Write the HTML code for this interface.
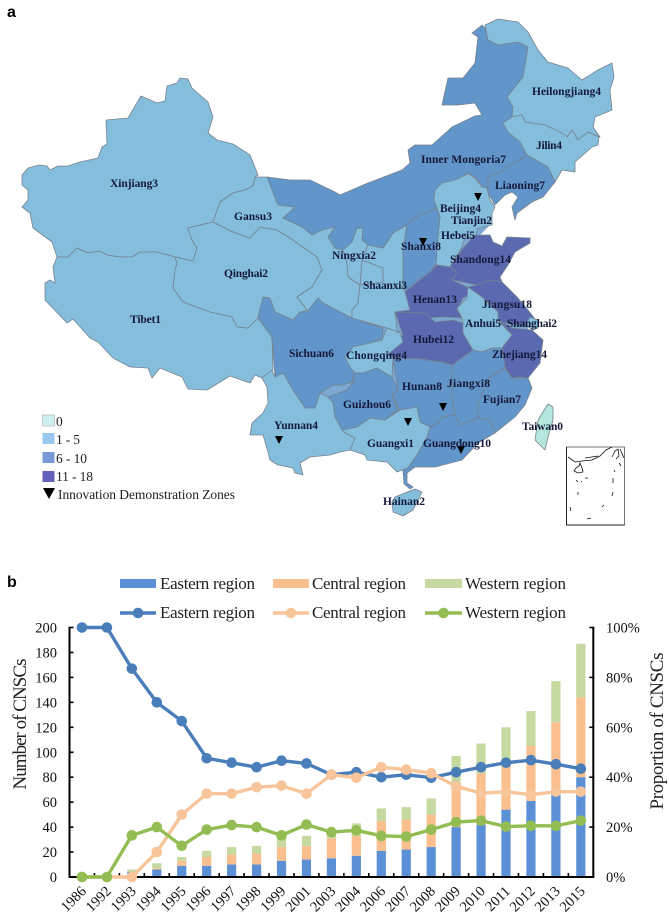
<!DOCTYPE html>
<html lang="en">
<head>
<meta charset="utf-8">
<title>CNSC distribution in China</title>
<style>
html,body{margin:0;padding:0;background:#fff}
svg{display:block;filter:blur(.3px)}
text{font-family:"Liberation Serif",serif}
.light{fill:#85BEDD}.mid{fill:#6295C9}.dark{fill:#5B69B1}
.prov polygon{stroke:#76838f;stroke-width:.8;stroke-linejoin:round}
.prov polygon.filler{stroke:none;fill:#7aa8d3}
.ml{font-size:11.5px;font-weight:bold;fill:#14193a}
.lg{font-size:13.5px;fill:#222}
.tick{font-size:14.5px;fill:#111}
.leg{font-size:17px;fill:#222}
</style>
</head>
<body>
<svg id="fig" xmlns="http://www.w3.org/2000/svg" width="669" height="916" viewBox="0 0 669 916">
<rect width="669" height="916" fill="#fff"/>
<text x="7" y="17" style="font-family:'Liberation Sans',sans-serif;font-weight:bold;font-size:16px">a</text>
<text x="7" y="587" style="font-family:'Liberation Sans',sans-serif;font-weight:bold;font-size:16px">b</text>

<g class="prov">
<polygon class="filler" points="270,320 320,300 350,250 400,230 440,210 490,225 465,250 500,285 530,320 520,375 490,430 430,460 370,450 320,420 280,370"/>
<polygon class="light" points="22,175 28,168 39,165 47,166 50,170 58,166 68,166 80,162 98,158 102,147 107,144 106,120 128,118 141,96 157,103 165,101 167,86 177,83 180,78 188,79 192,88 208,102 213,117 208,133 217,140 233,144 250,155 258,175 255,177 253,186 245,190 233,193 220,202 213,222 188,228 192,240 197,248 193,261 175,257 157,252 140,252 132,257 120,257 107,255 100,251 88,253 77,248 68,257 57,257 52,242 33,228 30,213 22,207 28,200 28,190 22,185"/>
<polygon class="light" points="57,257 68,257 77,248 88,253 100,251 107,255 120,257 132,257 140,252 157,252 175,257 177,263 175,270 173,288 183,302 210,312 232,317 237,327 248,328 258,318 272,337 273,370 262,378 255,375 250,383 230,376 207,390 188,389 182,377 160,368 152,378 148,368 130,367 113,358 98,342 90,338 73,319 67,323 45,300 45,283 50,280 55,283 53,267"/>
<polygon class="light" points="188,228 213,222 233,232 250,238 260,227 277,230 290,238 317,257 322,270 312,287 297,297 307,310 302,312 300,312 293,320 275,312 270,298 263,297 258,318 248,328 237,327 232,317 210,312 183,302 173,288 175,270 177,263 175,257 193,261 197,248 192,240"/>
<polygon class="light" points="255,177 267,177 278,205 295,207 283,218 302,227 312,235 322,230 335,227 328,237 335,248 343,250 347,263 348,277 360,285 358,303 352,310 352,318 340,312 323,303 318,298 307,312 302,312 307,310 297,297 312,287 322,270 317,257 290,238 277,230 260,227 250,238 233,232 213,222 220,202 233,193 245,190 253,186"/>
<polygon class="light" points="362,260 383,268 383,282 360,285"/>
<polygon class="light" points="343,250 352,242 357,228 363,228 362,240 368,245 362,260 360,285 348,277 347,263"/>
<polygon class="light" points="368,245 383,248 393,233 407,225 403,250 403,287 405,292 410,310 395,312 397,330 400,333 387,328 352,318 352,310 358,303 360,285 383,282 383,268 362,260"/>
<polygon class="mid" points="267,177 290,180 310,180 335,192 340,195 368,183 402,170 410,163 408,150 415,145 432,145 452,127 475,116 482,115 475,103 458,105 442,105 448,78 463,78 475,63 478,37 472,33 482,25 485,28 488,40 498,45 518,42 528,47 523,77 507,97 513,107 512,117 503,123 508,132 520,142 528,155 498,173 488,177 488,193 483,187 475,177 468,173 458,180 442,185 437,188 434,200 437,208 420,215 407,225 393,233 383,248 368,245 362,240 363,228 357,228 352,242 343,250 335,248 328,237 335,227 322,230 312,235 302,227 283,218 295,207 278,205"/>
<polygon class="light" points="485,25 498,19 518,22 528,32 538,50 548,62 568,68 582,80 598,70 612,63 614,77 610,90 612,110 595,117 593,127 600,137 588,132 578,140 572,130 567,137 545,125 525,122 522,115 512,117 513,107 507,97 523,77 528,47 518,42 498,45 488,40"/>
<polygon class="light" points="503,123 512,117 522,115 525,122 545,125 562,133 567,137 572,130 578,140 588,132 599,137 598,145 592,147 575,162 575,172 562,170 555,182 548,167 527,155 520,142 508,132"/>
<polygon class="mid" points="527,155 548,167 555,182 543,197 532,202 517,213 515,220 512,207 518,197 512,192 505,195 495,205 488,193 488,177 498,173"/>
<polygon class="light" points="435,190 442,183 455,180 468,174 475,178 482,187 487,188 490,200 495,207 492,213 492,225 478,228 475,237 465,237 462,247 450,267 437,265 436,264 437,247 440,217 437,208 434,200"/>
<polygon class="mid" points="407,224 420,215 437,208 440,217 437,247 436,264 430,272 407,290 403,287 403,250"/>
<polygon class="dark" points="463,248 475,235 490,235 493,242 502,246 507,237 530,238 530,243 515,252 508,265 500,277 502,282 490,280 477,285 453,280 452,273 457,272 450,267"/>
<polygon class="dark" points="437,265 450,267 457,272 452,280 467,287 473,293 463,298 457,310 463,318 443,317 423,318 395,312 410,310 405,292 407,290 430,272"/>
<polygon class="dark" points="395,312 425,313 435,322 453,320 463,323 463,333 473,350 452,365 442,362 420,359 397,358 393,365 385,348 403,335"/>
<polygon class="dark" points="477,285 490,280 502,282 517,297 528,310 538,323 532,327 503,323 498,320 498,312 482,297 468,287"/>
<polygon class="light" points="530,317 538,320 538,328 532,330 526,324"/>
<polygon class="light" points="457,308 467,298 468,287 482,297 498,312 498,320 512,335 502,348 492,348 482,352 473,350 463,333 463,320"/>
<polygon class="dark" points="498,320 512,328 532,330 543,340 540,363 528,378 518,377 512,378 505,367 502,348 512,335"/>
<polygon class="mid" points="258,318 263,297 270,298 275,312 293,320 300,312 307,312 318,298 323,303 340,312 352,318 383,328 382,340 378,340 370,343 353,347 345,357 350,367 355,373 352,382 343,385 333,385 320,393 315,408 305,408 293,390 283,373 275,377 272,337"/>
<polygon class="light" points="382,340 387,328 400,333 403,342 387,355 393,357 392,377 385,373 377,368 363,373 355,373 350,367 345,357 353,347 370,343"/>
<polygon class="mid" points="393,360 397,358 420,359 442,362 452,365 452,393 455,415 442,417 438,423 430,427 420,422 417,407 400,410 392,395 398,390 396,377"/>
<polygon class="mid" points="452,365 473,350 482,352 492,348 502,348 505,368 490,377 478,403 478,418 460,425 455,415 452,393"/>
<polygon class="mid" points="505,368 512,378 528,378 532,388 525,405 515,417 495,433 490,420 478,418 478,403 490,377"/>
<polygon class="mid" points="328,397 347,390 353,382 355,373 363,373 377,368 385,373 392,377 398,390 392,395 398,410 385,420 370,418 357,427 342,430 335,417 333,403"/>
<polygon class="light" points="342,430 357,427 370,418 385,420 400,410 417,407 420,422 430,427 427,437 417,455 408,468 397,472 387,462 367,460 365,455 350,450 355,438 345,433"/>
<polygon class="mid" points="430,427 438,423 442,417 455,415 460,425 478,418 490,420 495,433 478,443 462,460 435,467 415,467 407,473 407,483 413,487 410,489 404,484 403,470 408,468 417,455 427,437"/>
<polygon class="light" points="395,497 415,489 422,492 418,500 413,510 403,516 393,512 392,502"/>
<polygon class="light" points="262,378 272,370 275,377 283,373 293,390 305,408 315,408 320,393 328,397 333,403 335,417 342,430 345,433 355,438 350,450 340,452 330,455 310,457 300,463 303,475 295,473 293,468 278,465 270,460 268,452 263,435 250,435 252,423 263,413 268,403 267,387"/>
<polygon fill="#B5E8DC" points="548,404 553,407 553,420 548,437 545,450 535,440 538,420"/>
</g>

<g fill="#000">
<polygon points="474,193 482,193 478,201"/>
<polygon points="419,238 427,238 423,246"/>
<polygon points="275,436 283,436 279,444"/>
<polygon points="404,418 412,418 408,426"/>
<polygon points="439,403 447,403 443,411"/>
<polygon points="457,446 465,446 461,454"/>
</g>

<g>
<text class="ml" x="110" y="187" textLength="48">Xinjiang3</text>
<text class="ml" x="234" y="220" textLength="38">Gansu3</text>
<text class="ml" x="224" y="277" textLength="44">Qinghai2</text>
<text class="ml" x="130" y="323" textLength="31">Tibet1</text>
<text class="ml" x="289" y="357" textLength="45">Sichuan6</text>
<text class="ml" x="274" y="429" textLength="44">Yunnan4</text>
<text class="ml" x="532" y="95" textLength="69">Heilongjiang4</text>
<text class="ml" x="536" y="149" textLength="26">Jilin4</text>
<text class="ml" x="421" y="163" textLength="85">Inner Mongoria7</text>
<text class="ml" x="495" y="189" textLength="50">Liaoning7</text>
<text class="ml" x="440" y="212" textLength="41">Beijing4</text>
<text class="ml" x="451" y="224" textLength="41">Tianjin2</text>
<text class="ml" x="441" y="239" textLength="34">Hebei5</text>
<text class="ml" x="401" y="250" textLength="40">Shanxi8</text>
<text class="ml" x="450" y="263" textLength="61">Shandong14</text>
<text class="ml" x="332" y="259" textLength="44">Ningxia2</text>
<text class="ml" x="363" y="289" textLength="44">Shaanxi3</text>
<text class="ml" x="413" y="303" textLength="44">Henan13</text>
<text class="ml" x="482" y="308" textLength="50">Jiangsu18</text>
<text class="ml" x="465" y="327" textLength="36">Anhui5</text>
<text class="ml" x="507" y="327" textLength="50">Shanghai2</text>
<text class="ml" x="413" y="343" textLength="41">Hubei12</text>
<text class="ml" x="492" y="358" textLength="55">Zhejiang14</text>
<text class="ml" x="346" y="359" textLength="61">Chongqing4</text>
<text class="ml" x="402" y="390" textLength="40">Hunan8</text>
<text class="ml" x="447" y="387" textLength="43">Jiangxi8</text>
<text class="ml" x="483" y="403" textLength="38">Fujian7</text>
<text class="ml" x="343" y="408" textLength="48">Guizhou6</text>
<text class="ml" x="522" y="430" textLength="41">Taiwan0</text>
<text class="ml" x="367" y="447" textLength="47">Guangxi1</text>
<text class="ml" x="423" y="447" textLength="68">Guangdong10</text>
<text class="ml" x="383" y="505" textLength="42">Hainan2</text>
</g>

<g fill="none" stroke="#111" stroke-width=".8">
<rect x="566.5" y="447" width="58" height="78" stroke="#777" stroke-width="1"/>
<path d="M566.5 447V525H624.5" stroke="#222" stroke-width="1"/>
<path d="M568 457L575 462 582 461 592 460 600 456 606 450 612 447M585 458L598 456"/>
<path d="M580 463L582 468 583 472 578 473 574 471 576 468 579 466Z"/>
<path d="M612 457L615 451 618 449 619 456 616 459M620 449L624 458M619 463L621 466M576 480L578 482M581 481L582 482M585 478L588 478M613 478L613 483M614 470L615 472M578 492L578 495M613 492L612 496M602 507L604 505M570 507L571 511M587 519L591 518"/>
</g>

<g>
<rect x="42.500" y="415" width="12" height="11" fill="#CDEFF0" stroke="#aaa" stroke-width=".6"/>
<rect x="42.500" y="433" width="12" height="11" fill="#9BC8EE"/>
<rect x="42.500" y="452" width="12" height="11" fill="#789AD8"/>
<rect x="42.500" y="471" width="12" height="11" fill="#6562BC"/>
<text class="lg" x="56" y="426">0</text>
<text class="lg" x="56" y="444" textLength="24">1 - 5</text>
<text class="lg" x="56" y="463" textLength="31">6 - 10</text>
<text class="lg" x="56" y="481" textLength="37">11 - 18</text>
<polygon points="43,488 55,488 49,499" fill="#000"/>
<text class="lg" x="58" y="499" textLength="177">Innovation Demonstration Zones</text>
</g>

<g>
<rect x="120" y="579" width="36" height="9" fill="#5B90D6"/>
<text class="leg" x="160" y="589" textLength="95">Eastern region</text>
<rect x="273" y="579" width="36" height="9" fill="#F9BF8F"/>
<text class="leg" x="312" y="589" textLength="94">Central region</text>
<rect x="425" y="579" width="37" height="9" fill="#C5D9A0"/>
<text class="leg" x="465" y="589" textLength="101">Western region</text>
<line x1="120" x2="156" y1="613" y2="613" stroke="#4A7EBB" stroke-width="3.5"/>
<circle cx="138" cy="613" r="5.3" fill="#4A7EBB"/>
<text class="leg" x="160" y="618" textLength="95">Eastern region</text>
<line x1="273" x2="309" y1="613" y2="613" stroke="#F8C49A" stroke-width="3.5"/>
<circle cx="291" cy="613" r="5.3" fill="#F8C49A"/>
<text class="leg" x="312" y="618" textLength="94">Central region</text>
<line x1="425" x2="462" y1="613" y2="613" stroke="#93BC53" stroke-width="3.5"/>
<circle cx="443.500" cy="613" r="5.3" fill="#93BC53"/>
<text class="leg" x="465" y="618" textLength="101">Western region</text>
</g>

<g id="chart"></g>
<text transform="translate(26,724) rotate(-90)" text-anchor="middle" font-size="19" textLength="131" fill="#222">Number of CNSCs</text>
<text transform="translate(663,731) rotate(-90)" text-anchor="middle" font-size="19" textLength="157" fill="#222">Proportion of CNSCs</text>
</svg>

<script>
const years = ['1986','1992','1993','1994','1995','1996','1997','1998','1999','2001','2003','2004','2006','2007','2008','2009','2010','2011','2012','2013','2015'];
const barEast = [0,0,4,6,9,9,10,10,13,14,15,17,21,22,24,40,42,54,61,67,80];
const barCentral = [0,0,0,1,4,7,8,9,11,11,16,16,24,24,26,35,41,40,44,57,64];
const barWest = [0,0,2,4,3,5,6,6,12,8,7,10,10,10,13,22,24,26,28,33,43];
const pctEast = [100,100,83.5,70,62.5,47.6,45.8,44,46.6,45.5,41,42,40,41,39.8,42,44,45.8,46.8,45.2,43.4];
const pctCentral = [0,0,0,10,25,33.4,33.4,36,36.6,33.4,41,39.8,44,43,41.6,36.3,33.6,34.2,33,34.2,34.2];
const pctWest = [0,0,16.7,20,12.5,19,20.8,20,16.7,21,18,18.7,16.5,16.2,19,22,22.6,20.2,20.5,20.5,22.6];
const leftTicks = [0,20,40,60,80,100,120,140,160,180,200];
const rightTicks = [0,20,40,60,80,100];

const NS = 'http://www.w3.org/2000/svg';
const root = document.getElementById('chart');
const X0 = 69.5, X1 = 593.3, Y0 = 877, Y1 = 627.5;
const band = (X1 - X0) / years.length;
const xAt = i => X0 + band * (i + 0.5);
const yCount = v => Y0 - (Y0 - Y1) * v / 200;
const yPct = v => Y0 - (Y0 - Y1) * v / 100;
function make(tag, attrs, parent) {
  const el = document.createElementNS(NS, tag);
  for (const k in attrs) el.setAttribute(k, attrs[k]);
  (parent || root).appendChild(el);
  return el;
}

years.forEach((year, i) => {
  const h = [barEast[i], barCentral[i], barWest[i]];
  const fills = ['#5B90D6', '#F9BF8F', '#C5D9A0'];
  let base = 0;
  h.forEach((v, s) => {
    if (v <= 0) return;
    const r = make('rect', {x: xAt(i) - 4.6, width: 9.2, y: yCount(base + v), height: yCount(base) - yCount(base + v), fill: fills[s]});
    
    
    base += v;
  });
});

const axisG = make('g', {stroke: '#000', 'stroke-width': 1.6, fill: 'none'});


make('path', {d: `M${X0} ${Y1}V${Y0}H${X1}V${Y1}`, 'stroke-width': 2}, axisG);
leftTicks.forEach(t => {
  make('line', {x1: X0 - 1, x2: X0 + 4, y1: yCount(t), y2: yCount(t)}, axisG);
  const l = make('text', {class: 'tick', x: 57, y: yCount(t) + 5, 'text-anchor': 'end'});
  
  
  l.textContent = t;
});
rightTicks.forEach(t => {
  make('line', {x1: X1 - 4, x2: X1 + 1, y1: yPct(t), y2: yPct(t)}, axisG);
  const l = make('text', {class: 'tick', x: 606, y: yPct(t) + 5});
  
  
  l.textContent = t + '%';
});
for (let i = 0; i <= years.length; i++) {
  make('line', {x1: X0 + band * i, x2: X0 + band * i, y1: Y0, y2: Y0 - 4}, axisG);
}
years.forEach((year, i) => {
  const px = xAt(i) + 5, py = 892;
  const l = make('text', {class: 'tick', x: px, y: py, 'text-anchor': 'end', transform: `rotate(-45 ${px} ${py})`});
  
  
  l.textContent = year;
});

function drawLine(values, color, name) {
  const g = make('g', {});
  
  
  const pts = values.map((v, i) => xAt(i) + ' ' + yPct(v));
  make('path', {d: 'M' + pts.join('L'), fill: 'none', stroke: color, 'stroke-width': 3.4, 'stroke-linejoin': 'round'}, g);
  values.forEach((v, i) => {
    const c = make('circle', {cx: xAt(i), cy: yPct(v), r: 5.3, fill: color}, g);
    
    
  });
}
drawLine(pctEast, '#4A7EBB', 'eastern');
drawLine(pctCentral, '#F8C49A', 'central');
drawLine(pctWest, '#93BC53', 'western');
</script>
</body>
</html>
